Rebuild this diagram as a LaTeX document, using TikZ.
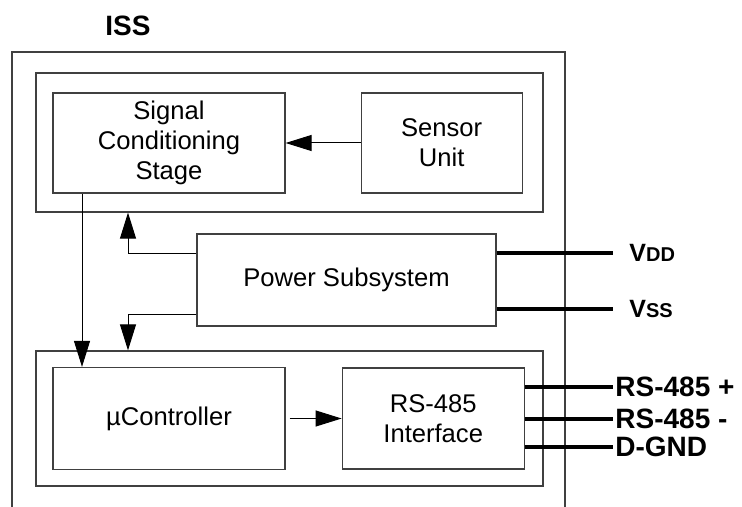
\documentclass[tikz,border=0pt]{standalone}
\usepackage{fontspec}
\setmainfont{Liberation Sans}
\usetikzlibrary{positioning, arrows.meta}

\begin{document}
\begin{tikzpicture}[
    x=0.5pt, y=-0.5pt,
    block/.style={rectangle, draw=black!75, line width=0.6pt, inner sep=0pt, align=center, font=\fontsize{12.8}{15}\selectfont},
    group/.style={rectangle, draw=black!75, line width=0.6pt, inner sep=0pt, minimum width=253.5pt},
    arrow/.style={-{Triangle[length=13pt,width=8pt]}, line width=0.5pt},
    bus/.style={line width=1.7pt},
    pin/.style={inner sep=0pt, font=\fontsize{14}{16}\selectfont\bfseries}
]
\useasboundingbox (0,0) rectangle (742,507);

% ISS enclosure
\node[font=\fontsize{14}{16}\selectfont\bfseries] (iss) at (128,26) {ISS};
\draw[draw=black!75, line width=0.6pt] (12,507) |- (565,52) -- (565,507);

% Sensing part
\node[group, minimum height=69.5pt] (sensing) at (289.5,142.5) {};
\node[block, minimum width=116pt, minimum height=50pt] (sc) at (169,143) {Signal\\Conditioning\\Stage};
\node[block, minimum width=80.5pt, minimum height=50pt, right=37.5pt of sc] (sensor) {Sensor\\Unit};

% Power
\node[block, minimum width=149.5pt, minimum height=46pt] (power) at (346.5,280) {Power Subsystem};

% Digital part
\node[group, minimum height=67.5pt] (digital) at (289.5,418.5) {};
\node[block, minimum width=116pt, minimum height=51pt] (uc) at (169,418.5) {µController};
\node[block, minimum width=91pt, minimum height=50.5pt, right=28pt of uc] (rs) {RS-485\\Interface};

% Line ends
\coordinate (pwrtap) at (128,280);
\coordinate (vdd) at (613,253);
\coordinate (vss) at (613,309);
\coordinate (rsp) at (613,387);
\coordinate (rsn) at (613,419);
\coordinate (dgnd) at (613,447);

% Arrows
\draw[arrow] (sensor) -- (sc);
\draw[arrow] ([xshift=-43.5pt]sc.south) -- ([xshift=-43.5pt]uc.north);
\draw[arrow] ([yshift=-10pt]power.north west) -| (sensing.south -| pwrtap);
\draw[arrow] ([yshift=6pt]power.south west) -| (digital.north -| pwrtap);
\draw[arrow, shorten <=2pt] (uc) -- (rs);

% Buses
\draw[bus] (power.east |- vdd) -- (vdd);
\draw[bus] (power.east |- vss) -- (vss);
\draw[bus] (rs.east |- rsp) -- (rsp);
\draw[bus] (rs.east |- rsn) -- (rsn);
\draw[bus] (rs.east |- dgnd) -- (dgnd);

% Labels
\node[pin, right=8pt of vdd] (vddlbl) {\fontsize{12.5}{14}\selectfont V\fontsize{10}{12}\selectfont DD};
\node[pin, right=8pt of vss] (vsslbl) {\fontsize{12.5}{14}\selectfont V\fontsize{10}{12}\selectfont SS};
\node[pin, right=1pt of rsp] (rsplbl) {RS-485 +};
\node[pin, right=1pt of rsn] (rsnlbl) {RS-485 -};
\node[pin, right=1pt of dgnd] (dgndlbl) {D-GND};

\end{tikzpicture}
\end{document}
